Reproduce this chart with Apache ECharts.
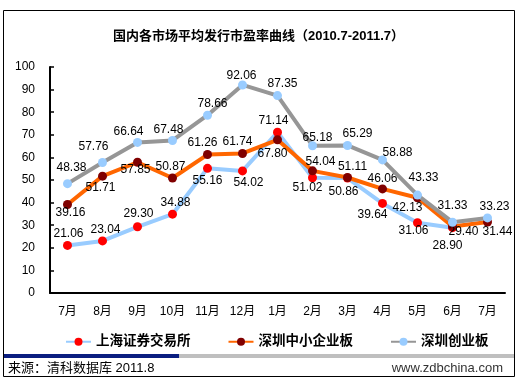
<!DOCTYPE html>
<html><head><meta charset="utf-8">
<script src="https://cdn.jsdelivr.net/npm/echarts@6/dist/echarts.min.js"></script>
<style>html,body{margin:0;padding:0;background:#fff}#c{width:517px;height:379px}</style>
</head><body><div id="c"></div>
<script>
const categories = ['7月','8月','9月','10月','11月','12月','1月','2月','3月','4月','5月','6月','7月'];
const shanghai = [21.06,23.04,29.30,34.88,55.16,54.02,71.14,51.02,50.86,39.64,31.06,28.90,null];
const sme = [39.16,51.71,57.85,50.87,61.26,61.74,67.80,54.04,51.11,46.06,42.13,29.40,31.44];
const gem = [48.38,57.76,66.64,67.48,78.66,92.06,87.35,65.18,65.29,58.88,43.33,31.33,33.23];
const seriesNames = ['上海证券交易所','深圳中小企业板','深圳创业板'];
const yTicks = [0,100,10];

// label placement (style only)
const T='top', B='bottom', I='inside';
const shanghaiLbl = [[T,1,0],[T,3,0],[T,1,-2],[T,3,0],[B,0,1],[B,6,0],[T,-4,0],[B,-5,-2],[B,-4,2],[B,-10,0],[B,-4,-4],[B,-5,7],[T,0,0]];
const smeLbl = [[B,3,-3],[B,-2,0],[B,-2,-4],[T,-2,0],[T,-5,0],[T,-5,0],[B,-5,2],[T,8,2],[T,5,1],[T,0,1],[B,-10,-2],[I,11,5],[I,10,10]];
const gemLbl = [[T,4,-4],[T,-9,-4],[T,-9,1],[T,-4,1],[T,5,0],[T,-1,2],[T,5,0],[T,5,3],[T,10,0],[T,15,4],[T,6,-6],[T,0,-5],[T,7,0]];

const FONT = "'Liberation Sans', Arial, 'Noto Sans CJK SC', sans-serif";
function mk(vals, lp) {
  return vals.map((v,i)=> v==null ? null : {value:v, label:{position:lp[i][0], distance:1, offset:[lp[i][1], lp[i][2]]}});
}
const chart = echarts.init(document.getElementById('c'), null, {renderer:'canvas'});
const lbl = {show:true, color:'#000', fontSize:12, fontFamily:FONT, formatter:p=>p.value.toFixed(2)};
chart.setOption({
  animation:false,
  backgroundColor:'#fff',
  title:{text:'国内各市场平均发行市盈率曲线（2010.7-2011.7）', left:'center', top:25,
    textStyle:{fontSize:13, fontWeight:'bold', color:'#000', fontFamily:FONT}},
  grid:{left:50, right:12, top:67, bottom:86},
  legend:{left:60, top:330, itemGap:37, itemWidth:25, itemHeight:10,
    textStyle:{fontSize:13.5, fontWeight:'bold', color:'#000', fontFamily:FONT},
    data:seriesNames},
  xAxis:{type:'category', data:categories, boundaryGap:true,
    axisLine:{lineStyle:{color:'#000', width:2}},
    axisTick:{inside:true, length:4, lineStyle:{color:'#000', width:1.5}},
    axisLabel:{color:'#000', fontSize:12, fontFamily:FONT, margin:13, interval:0}},
  yAxis:{type:'value', min:yTicks[0], max:yTicks[1], interval:yTicks[2],
    axisLine:{show:true, lineStyle:{color:'#000', width:2}},
    axisTick:{show:true, inside:true, length:4, lineStyle:{color:'#000', width:1.5}},
    splitLine:{show:false},
    axisLabel:{color:'#000', fontSize:12, fontFamily:FONT, margin:15}},
  series:[
    {name:seriesNames[0], type:'line', data:mk(shanghai, shanghaiLbl), symbol:'circle', symbolSize:9,
     lineStyle:{color:'#99CCFF', width:4}, itemStyle:{color:'#FF0000'}, label:lbl, z:2},
    {name:seriesNames[1], type:'line', data:mk(sme, smeLbl), symbol:'circle', symbolSize:9,
     lineStyle:{color:'#FF6600', width:4}, itemStyle:{color:'#800000'}, label:lbl, z:3},
    {name:seriesNames[2], type:'line', data:mk(gem, gemLbl), symbol:'circle', symbolSize:9,
     lineStyle:{color:'#969696', width:4}, itemStyle:{color:'#99CCFF'}, label:lbl, z:4}
  ],
  graphic:[
    {type:'rect', shape:{x:3.5, y:10.5, width:511, height:366}, style:{fill:null, stroke:'#000', lineWidth:1}, silent:true},
    {type:'rect', shape:{x:4, y:354, width:175, height:4}, style:{fill:'#0A1E80'}, silent:true},
    {type:'rect', shape:{x:179, y:354, width:335, height:4}, style:{fill:'#BFBFBF'}, silent:true},
    {type:'text', left:8, top:362, style:{text:'来源：清科数据库 2011.8', fill:'#000', font:"13px "+FONT}},
    {type:'text', right:14, top:362, style:{text:'www.zdbchina.com', fill:'#333', font:"13px "+FONT}}
  ]
});
</script></body></html>
